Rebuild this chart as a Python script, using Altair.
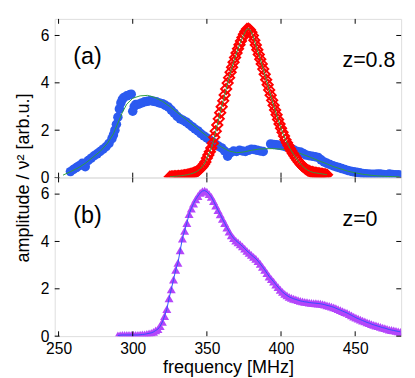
import altair as alt
import pandas as pd

# ---------------- data ----------------
# panel (a), z=0.8 : blue circles
blue_freq = [258, 260, 262, 264, 266, 268, 270, 272, 274, 276, 278, 280, 282, 284, 286, 287, 288, 289,
             290, 291, 292, 293, 294, 296, 298, 299, 300, 301, 302, 304, 306, 308, 310, 312, 314, 316,
             318, 320, 322, 324, 326, 328, 330, 332, 334, 336, 338, 340, 342, 344, 346, 348, 350, 352,
             354, 356, 358, 360, 362, 364, 366, 368, 370, 372, 374, 376, 378, 380, 382, 384, 386, 388,
             393, 395, 397, 399, 401, 403, 405, 407, 409, 411, 413, 415, 417, 419, 421, 423, 425, 427,
             429, 431, 433, 435, 437, 439, 441, 443, 445, 447, 449, 451, 453, 455, 457, 459, 461, 463,
             465, 467, 469, 471, 473, 475, 477, 479, 481]
blue_amp = [0.25, 0.34, 0.42, 0.50, 0.60, 0.46, 0.72, 0.82, 0.92, 1.00, 1.10, 1.20, 1.30, 1.44, 1.64, 1.80, 2.00, 2.25,
            2.55, 2.90, 3.15, 3.30, 3.38, 3.45, 3.50, 3.52, 2.80, 3.00, 3.08, 3.10, 3.15, 3.20, 3.22, 3.25, 3.22, 3.20,
            3.15, 3.12, 3.05, 2.98, 2.85, 2.72, 2.58, 2.48, 2.42, 2.35, 2.25, 2.15, 2.05, 1.97, 1.85, 1.76, 1.67, 1.58,
            1.50, 1.40, 1.32, 1.25, 1.12, 0.90, 1.05, 1.12, 1.10, 1.15, 1.12, 1.10, 1.15, 1.20, 1.18, 1.15, 1.12, 1.10,
            1.42, 1.40, 1.38, 1.36, 1.34, 1.30, 1.28, 1.22, 1.15, 1.10, 1.08, 1.02, 0.95, 0.92, 0.90, 0.88, 0.85, 0.75,
            0.66, 0.60, 0.55, 0.50, 0.46, 0.42, 0.38, 0.34, 0.30, 0.27, 0.24, 0.22, 0.20, 0.17, 0.16, 0.15, 0.14, 0.14,
            0.15, 0.15, 0.13, 0.12, 0.15, 0.13, 0.12, 0.12, 0.10]

# panel (a): green fit through the blue data
blue_fit_freq = [253, 258, 263, 268, 273, 278, 283, 287, 290, 293, 296, 300, 305, 310, 315, 320, 325, 330,
                 335, 340, 345, 350, 355, 360, 365, 370, 375, 380, 385, 390, 395, 400, 405, 410, 415, 420,
                 425, 430, 435, 440, 445, 450, 455, 460, 465, 470, 475, 480]
blue_fit_amp = [0.10, 0.25, 0.40, 0.60, 0.85, 1.10, 1.45, 1.85, 2.30, 2.75, 3.10, 3.35, 3.45, 3.47, 3.38, 3.22, 3.00, 2.75,
                2.50, 2.25, 2.00, 1.75, 1.50, 1.28, 1.12, 1.05, 1.08, 1.15, 1.20, 1.22, 1.22, 1.20, 1.15, 1.08, 0.97, 0.85,
                0.72, 0.60, 0.47, 0.37, 0.27, 0.20, 0.14, 0.10, 0.07, 0.05, 0.04, 0.03]

# panel (a): red diamonds, 1 MHz sampling from 325 MHz
red_start, red_step = 325, 1.0
red_amp = [0.03, 0.04, 0.04, 0.05, 0.05, 0.06, 0.07, 0.07, 0.08, 0.09, 0.10, 0.11, 0.12, 0.14, 0.15, 0.17, 0.19, 0.22,
           0.25, 0.29, 0.34, 0.40, 0.47, 0.56, 0.66, 0.82, 0.95, 1.09, 1.25, 1.45, 1.70, 1.96, 2.22, 2.48, 2.74, 2.99,
           3.24, 3.49, 3.74, 3.99, 4.22, 4.45, 4.66, 4.87, 5.07, 5.26, 5.44, 5.61, 5.77, 5.92, 6.05, 6.17, 6.27, 6.29,
           6.24, 6.14, 6.00, 5.80, 5.60, 5.40, 5.20, 5.00, 4.80, 4.58, 4.36, 4.13, 3.92, 3.70, 3.48, 3.26, 3.05, 2.85,
           2.65, 2.45, 2.26, 2.08, 1.91, 1.75, 1.60, 1.47, 1.35, 1.23, 1.12, 1.02, 0.92, 0.83, 0.74, 0.66, 0.58, 0.51,
           0.45, 0.40, 0.35, 0.31, 0.28, 0.25, 0.23, 0.21, 0.20, 0.19, 0.18, 0.17, 0.16, 0.15, 0.14, 0.13, 0.12]

# panel (b), z=0 : purple triangles, 1.5 MHz sampling from 290 MHz
purple_start, purple_step = 290, 1.5
purple_amp = [0.03, 0.04, 0.05, 0.05, 0.05, 0.05, 0.05, 0.05, 0.05, 0.05, 0.06, 0.07, 0.08, 0.10, 0.12, 0.14, 0.18, 0.24,
              0.30, 0.42, 0.60, 0.85, 1.14, 1.60, 1.98, 2.39, 2.80, 3.10, 3.62, 4.12, 4.45, 4.78, 5.15, 5.39, 5.60, 5.78,
              5.92, 6.05, 6.13, 6.15, 6.10, 6.00, 5.88, 5.70, 5.51, 5.32, 5.14, 4.95, 4.77, 4.58, 4.42, 4.26, 4.14, 4.04,
              3.96, 3.88, 3.79, 3.70, 3.60, 3.52, 3.43, 3.35, 3.27, 3.17, 3.05, 2.93, 2.80, 2.66, 2.52, 2.41, 2.30, 2.18,
              2.07, 1.96, 1.87, 1.79, 1.72, 1.66, 1.62, 1.58, 1.55, 1.52, 1.49, 1.47, 1.45, 1.44, 1.42, 1.41, 1.40, 1.39,
              1.38, 1.37, 1.35, 1.33, 1.30, 1.28, 1.25, 1.22, 1.18, 1.14, 1.10, 1.06, 1.02, 0.98, 0.93, 0.88, 0.83, 0.78,
              0.74, 0.70, 0.66, 0.62, 0.58, 0.55, 0.51, 0.48, 0.45, 0.42, 0.39, 0.36, 0.34, 0.31, 0.28, 0.26, 0.24, 0.22,
              0.20, 0.18]

x_ticks = [250, 300, 350, 400, 450]
y_ticks = [0, 2, 4, 6]
panel_tags = ["(a)", "(b)"]
z_tags = ["z=0.8", "z=0"]

# ---------------- styling ----------------
W, H = 356, 163
XDOM = [247.4, 481.0]
YDOM = [0, 6.7]
FONT = "Liberation Sans"
BLUE = "#2b5af0"
RED = "#ff0000"
GREEN = "#2e9e3e"
PURPLE = "#b446fa"
FITBLUE = "#3050ff"
TICKFS = 16

xs = alt.Scale(domain=XDOM, nice=False, zero=False)
ys = alt.Scale(domain=YDOM, nice=False, zero=False)

blue_df = pd.DataFrame({"freq": blue_freq, "amp": blue_amp})
bfit_df = pd.DataFrame({"freq": blue_fit_freq, "amp": blue_fit_amp})
red_df = pd.DataFrame({"freq": [red_start + red_step * i for i in range(len(red_amp))], "amp": red_amp})
pur_df = pd.DataFrame({"freq": [purple_start + purple_step * i for i in range(len(purple_amp))], "amp": purple_amp})


def y_axis(title):
    kw = dict(values=y_ticks, ticks=False, domain=False, grid=False, labelFontSize=TICKFS,
              labelPadding=6, labelFont=FONT, labelColor="black", format="d")
    if title:
        kw.update(title=title, titleFontSize=18.5, titleFont=FONT, titleFontWeight="normal",
                  titleColor="black", titleY=H, titlePadding=8)
    else:
        kw.update(title=None)
    return alt.Axis(**kw)


x_axis_bottom = alt.Axis(values=x_ticks, ticks=False, domain=False, grid=False, labelFontSize=TICKFS,
                         labelPadding=5, labelFlush=False, labelFont=FONT, labelColor="black",
                         title="frequency [MHz]", titleFontSize=18.5, titleFont=FONT,
                         titleFontWeight="normal", titleColor="black", titlePadding=1)


def panel(layers_fn, xaxis, yaxis, tag, ztag):
    X = lambda: alt.X("freq:Q", scale=xs, axis=xaxis)
    Y = lambda: alt.Y("amp:Q", scale=ys, axis=yaxis)
    layers = layers_fn(X, Y)
    xt = pd.DataFrame({"freq": x_ticks})
    yt = pd.DataFrame({"amp": y_ticks})
    tick_top = alt.Chart(xt).mark_rule(color="black", strokeWidth=1).encode(x=X(), y=alt.value(0), y2=alt.value(5))
    tick_bot = alt.Chart(xt).mark_rule(color="black", strokeWidth=1).encode(x=X(), y=alt.value(H - 5), y2=alt.value(H))
    tick_l = alt.Chart(yt).mark_rule(color="black", strokeWidth=1).encode(y=Y(), x=alt.value(0), x2=alt.value(5))
    tick_r = alt.Chart(yt).mark_rule(color="black", strokeWidth=1).encode(y=Y(), x=alt.value(W - 5), x2=alt.value(W))
    tag_df = pd.DataFrame({"freq": [259.9], "amp": [5.07], "t": [tag]})
    z_df = pd.DataFrame({"freq": [441.4], "amp": [4.94], "t": [ztag]})
    tag_t = alt.Chart(tag_df).mark_text(align="left", baseline="middle", fontSize=24, font=FONT,
                                        color="black").encode(x=X(), y=Y(), text="t:N")
    z_t = alt.Chart(z_df).mark_text(align="left", baseline="middle", fontSize=22, font=FONT,
                                    color="black").encode(x=X(), y=Y(), text="t:N")
    return alt.layer(*layers, tick_top, tick_bot, tick_l, tick_r, tag_t, z_t).properties(width=W, height=H)


def top_layers(X, Y):
    return [
        alt.Chart(blue_df).mark_circle(size=95, color=BLUE, opacity=1, clip=True).encode(x=X(), y=Y()),
        alt.Chart(bfit_df).mark_line(color=GREEN, strokeWidth=1, clip=True).encode(x=X(), y=Y()),
        alt.Chart(red_df).mark_point(shape="diamond", filled=False, color=RED, strokeWidth=2, size=110,
                                     opacity=1, clip=True).encode(x=X(), y=Y()),
        alt.Chart(red_df).mark_line(color=GREEN, strokeWidth=1, clip=True).encode(x=X(), y=Y()),
    ]


def bottom_layers(X, Y):
    return [
        alt.Chart(pur_df).mark_point(shape="triangle-up", filled=True, color=PURPLE, size=85, opacity=1,
                                     clip=True).encode(x=X(), y=Y()),
        alt.Chart(pur_df).mark_line(color=FITBLUE, strokeWidth=1, clip=True).encode(x=X(), y=Y()),
    ]


top = panel(top_layers, None, y_axis("amplitude / ν² [arb.u.]"), panel_tags[0], z_tags[0])
bottom = panel(bottom_layers, x_axis_bottom, y_axis(None), panel_tags[1], z_tags[1])

chart = alt.vconcat(top, bottom, spacing=0, bounds="flush").configure_view(
    stroke="black", strokeWidth=1
).configure(font=FONT, background="white")

chart.save("out.html", embed_options={"renderer": "svg", "actions": False})
